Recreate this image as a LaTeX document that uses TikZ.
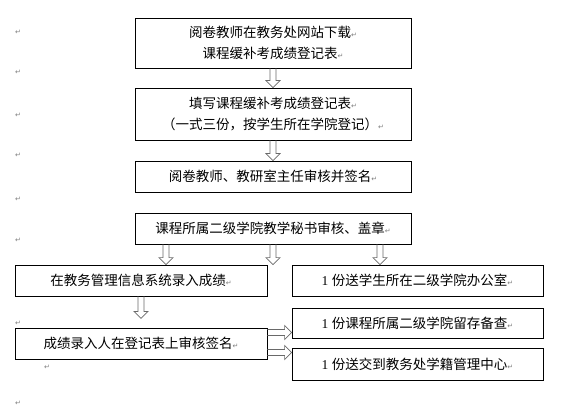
\documentclass[tikz,border=0pt]{standalone}
\usepackage{fontspec}
\setmainfont{Liberation Serif}
\newfontfamily\cjk{Noto Sans CJK SC}
\newfontfamily\symfont{DejaVu Sans}
\usetikzlibrary{calc,positioning}
\definecolor{markgray}{RGB}{125,125,125}
\definecolor{arrowgray}{RGB}{105,105,105}
\newcommand{\pmk}{{\symfont\color{markgray}\fontsize{7}{7}\selectfont ↵}}
\newcommand{\one}{{\rmfamily 1}\hspace{3.5pt}}

\tikzset{
  stage/.style={draw, line width=0.8pt, inner sep=0pt, align=center,
    font=\cjk\fontsize{13.5}{21}\selectfont},
  retmark/.style={inner sep=0pt, font=\symfont\fontsize{7}{7}\selectfont, text=markgray},
  hollow/.style={draw=arrowgray, line width=0.7pt, line join=miter, to path={
    ($(\tikztostart)!3pt!90:(\tikztotarget)$)
    -- ($(\tikztotarget)!7pt!(\tikztostart)!3pt!-90:(\tikztostart)$)
    -- ($(\tikztotarget)!7pt!(\tikztostart)!7pt!-90:(\tikztostart)$)
    -- (\tikztotarget)
    -- ($(\tikztotarget)!7pt!(\tikztostart)!7pt!90:(\tikztostart)$)
    -- ($(\tikztotarget)!7pt!(\tikztostart)!3pt!90:(\tikztostart)$)
    -- ($(\tikztostart)!3pt!-90:(\tikztotarget)$)}}
}

\begin{document}
\begin{tikzpicture}[x=1pt,y=-1pt]
  %\draw[color=gray,step=10pt,help lines,opacity=0.3] (0,0) grid (565,409); %help grid
  \useasboundingbox (0,0) rectangle (565,409);
  % main column
  \node[stage, minimum width=276pt, minimum height=50pt] (b1) at (273,43)
    {阅卷教师在教务处网站下载\pmk\\课程缓补考成绩登记表\pmk};
  \node[stage, minimum width=276pt, minimum height=52pt] (b2) at (273,114)
    {填写课程缓补考成绩登记表\pmk\\（一式三份，按学生所在学院登记）\pmk};
  \node[stage, minimum width=276pt, minimum height=31pt] (b3) at (273,176.5)
    {阅卷教师、教研室主任审核并签名\pmk};
  \node[stage, minimum width=276pt, minimum height=31pt] (b4) at (273,228.5)
    {课程所属二级学院教学秘书审核、盖章\pmk};
  % left branch
  \node[stage, minimum width=252pt, minimum height=31pt] (bA) at (141,280.5)
    {在教务管理信息系统录入成绩\pmk};
  \node[stage, minimum width=252pt, minimum height=31pt] (bC) at (141,343.5)
    {成绩录入人在登记表上审核签名\pmk};
  % right branch
  \node[stage, minimum width=251pt, minimum height=31pt] (bB) at (417.5,280.5)
    {\one 份送学生所在二级学院办公室\pmk};
  \node[stage, minimum width=251pt, minimum height=30pt] (bD) at (417.5,323)
    {\one 份课程所属二级学院留存备查\pmk};
  \node[stage, minimum width=251pt, minimum height=32pt] (bE) at (417.5,364)
    {\one 份送交到教务处学籍管理中心\pmk};

  % arrows
  \draw[hollow] (b1.south) to (b2.north);
  \draw[hollow] (b2.south) to (b3.north);
  \coordinate (s1) at ([xshift=-107pt]b4.south);
  \coordinate (s3) at ([xshift=107pt]b4.south);
  \draw[hollow] (s1) to (s1 |- bA.north);
  \draw[hollow] (b4.south) to (b4.south |- bA.north);
  \draw[hollow] (s3) to (s3 |- bB.north);
  \coordinate (aend) at ([yshift=-22pt]bA.south);
  \draw[hollow] (bA.south) to (aend);
  \coordinate (c1) at ([yshift=11pt]bC.east);
  \coordinate (c2) at ([yshift=-9pt]bC.east);
  \draw[hollow] (c1) to (c1 -| bD.west);
  \draw[hollow] (c2) to (c2 -| bE.west);

  % paragraph marks
  \node[retmark] (m1) at (18,32) {↵};
  \node[retmark] (m2) at (18,72) {↵};
  \node[retmark] (m3) at (18,115) {↵};
  \node[retmark] (m4) at (18,155) {↵};
  \node[retmark] (m5) at (18,199) {↵};
  \node[retmark] (m6) at (18,240) {↵};
  \node[retmark] (m7) at (18,323) {↵};
  \node[retmark] (m8) at (47,367) {↵};
  \node[retmark] (m9) at (18,403) {↵};
\end{tikzpicture}
\end{document}
